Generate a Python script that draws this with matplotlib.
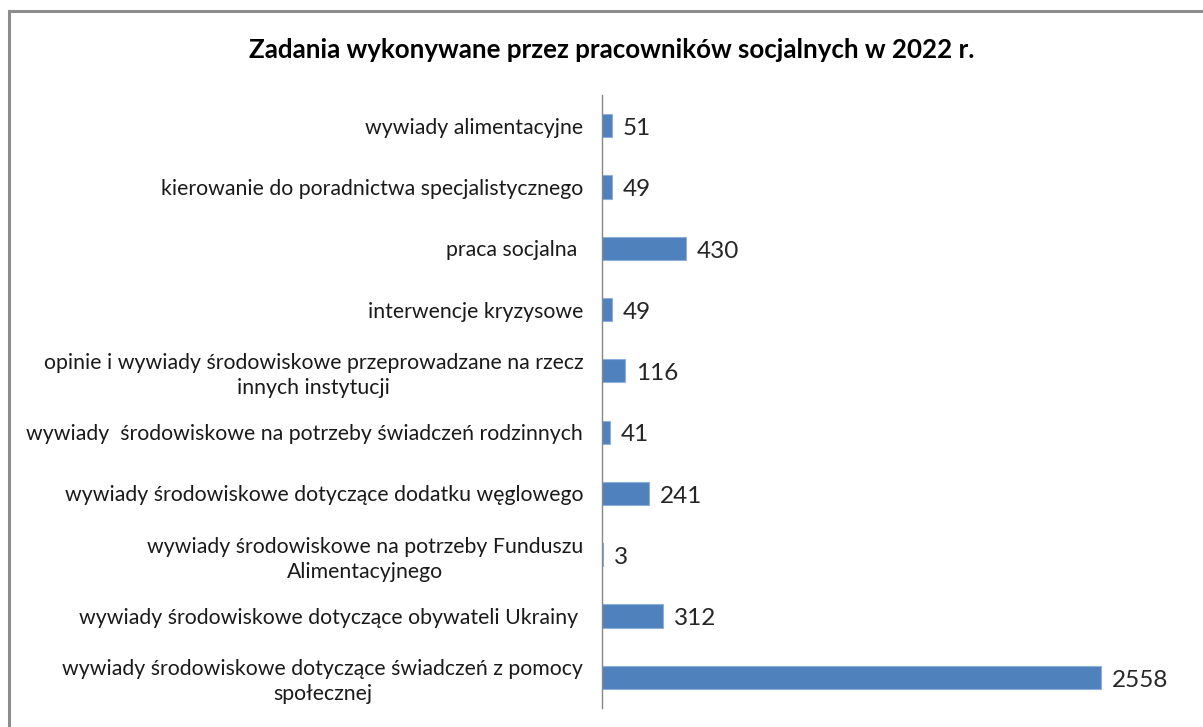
import matplotlib
matplotlib.use("Agg")
import matplotlib.pyplot as plt
from matplotlib.patches import Rectangle

categories = [
    "wywiady alimentacyjne",
    "kierowanie do poradnictwa specjalistycznego",
    "praca socjalna ",
    "interwencje kryzysowe",
    "opinie i wywiady środowiskowe przeprowadzane na rzecz\ninnych instytucji",
    "wywiady  środowiskowe na potrzeby świadczeń rodzinnych",
    "wywiady środowiskowe dotyczące dodatku węglowego",
    "wywiady środowiskowe na potrzeby Funduszu\nAlimentacyjnego",
    "wywiady środowiskowe dotyczące obywateli Ukrainy ",
    "wywiady środowiskowe dotyczące świadczeń z pomocy\nspołecznej",
]
values = [51, 49, 430, 49, 116, 41, 241, 3, 312, 2558]
title = "Zadania wykonywane przez pracowników socjalnych w 2022 r."

W, H = 1203, 727
plt.rcParams['font.family'] = ['Lato', 'DejaVu Sans']
fig = plt.figure(figsize=(W / 100, H / 100), dpi=100)
fig.patch.set_facecolor("white")

# outer chart border
fig.add_artist(Rectangle((8.5 / W, -0.05), 1.2, (H - 11) / H + 0.05,
                         transform=fig.transFigure, fill=False,
                         edgecolor="#8c8c8c", linewidth=2.2))

x0, x1 = 602, 1187
y_top, y_bot = 95, 708
ax = fig.add_axes([x0 / W, (H - y_bot) / H, (x1 - x0) / W, (y_bot - y_top) / H])
pos = list(range(len(values)))
ax.barh(pos, values, height=0.38, color="#4F81BD", edgecolor="#8DB0DA", linewidth=0.8)
ax.set_xlim(0, 3000)
ax.set_ylim(len(values) - 0.5, -0.5)
ax.set_yticks(pos)
ax.set_yticklabels(categories, fontsize=15.3, color="#1a1a1a",
                   multialignment="center", linespacing=1.3)
ax.tick_params(axis="y", length=0, pad=13.5)
ax.set_xticks([])
for s in ["top", "right", "bottom"]:
    ax.spines[s].set_visible(False)
ax.spines["left"].set_color("#868686")
ax.spines["left"].set_linewidth(1.0)

for p, v in zip(pos, values):
    ax.annotate(str(v), (v, p), xytext=(8, -2), textcoords="offset points",
                ha="left", va="center", fontsize=17.5, color="#262626")

fig.text(612 / W, (H - 50) / H, title, ha="center", va="center",
         fontsize=18.6, fontweight="bold", color="#000000")

fig.savefig("out.png", dpi=100, facecolor="white")
